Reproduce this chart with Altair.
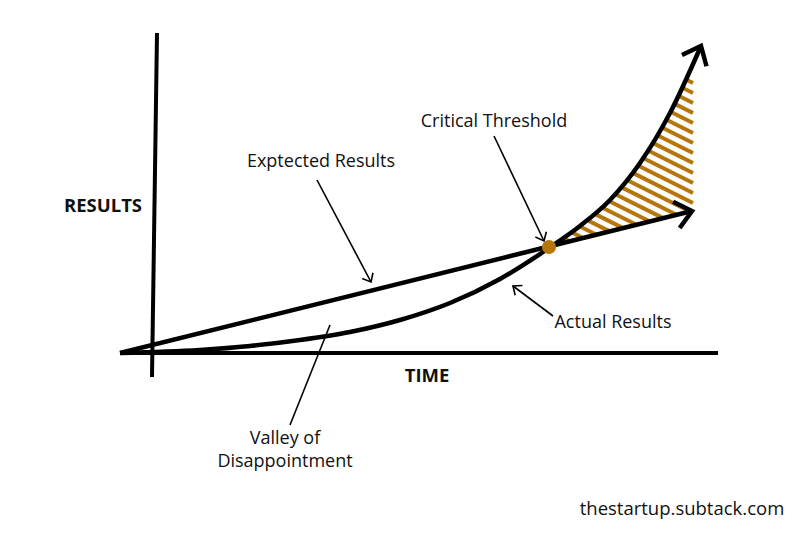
import math
import numpy as np
import pandas as pd
import altair as alt

# ---------------- data (time units, results units) ----------------
x_axis_t = [-3.2, 56.6]
x_axis_r = [0.0, 0.0]
y_axis_t = [0.0, 0.5]
y_axis_r = [-2.4, 32.0]

expected_t = [-3.2, 54.0]
expected_r = [0.0, 14.2]

actual_t = [-3.2, 4.8, 9.8, 14.8, 19.8, 24.8, 29.8, 34.8, 39.7, 42.8, 45.8, 48.8, 51.8, 54.9]
actual_r = [0.0, 0.3, 0.7, 1.3, 2.1, 3.3, 5.0, 7.4, 10.5, 12.7, 15.3, 19.0, 24.0, 30.7]

threshold_t = [39.7]
threshold_r = [10.6]

label_text = ["Critical Threshold", "Exptected Results", "Actual Results", "Valley of", "Disappointment"]
label_t = [34.2, 16.9, 46.1, 13.3, 13.3]
label_r = [23.1, 19.1, 3.0, -8.6, -10.9]

pointer_from_t = [34.2, 16.5, 40.1, 13.8]
pointer_from_r = [21.7, 17.3, 3.7, -7.2]
pointer_to_t = [39.2, 21.9, 36.1, 17.8]
pointer_to_r = [11.2, 7.1, 6.7, 2.8]
pointer_head = [True, True, True, False]

axis_title_text = ["RESULTS", "TIME"]
axis_title_t = [-4.9, 27.5]
axis_title_r = [14.7, -2.3]

credit_text = ["thestartup.subtack.com"]
credit_t = [53.0]
credit_r = [-15.6]

# shaded gap between the two results (hatching)
HATCH_RIGHT = 54.1
HATCH_TOP = 27.0
HATCH_STEP = 1.0
HATCH_SLOPE = 0.5

GOLD = "#B7760A"
FONT = "Open Sans"

# ---------------- derived tables ----------------
def heading(t0, r0, t1, r1):
    return (math.degrees(math.atan2(-(r1 - r0), t1 - t0)) + 360.0) % 360.0

def upper(t):
    return float(np.interp(t, actual_t, actual_r))

def lower(t):
    return float(np.interp(t, expected_t, expected_r))

def bisect(f, a, b, n=60):
    fa = f(a)
    for _ in range(n):
        m = 0.5 * (a + b)
        fm = f(m)
        if (fm > 0) == (fa > 0):
            a, fa = m, fm
        else:
            b = m
    return 0.5 * (a + b)

t_dot = threshold_t[0]
stripes = []
for k in range(60):
    c = HATCH_TOP - k * HATCH_STEP
    stripe = lambda t, c=c: c + HATCH_SLOPE * (HATCH_RIGHT - t)
    if stripe(t_dot + 0.3) <= lower(t_dot + 0.3):
        break
    if c >= lower(HATCH_RIGHT):
        ts = HATCH_RIGHT
    else:
        ts = bisect(lambda t: stripe(t) - lower(t), t_dot, HATCH_RIGHT)
    te = bisect(lambda t: stripe(t) - upper(t), t_dot, ts)
    stripes.append({"t": ts, "r": stripe(ts), "t2": te, "r2": stripe(te)})
hatch_df = pd.DataFrame(stripes)

axes_df = pd.DataFrame({
    "t": [x_axis_t[0], y_axis_t[0]], "r": [x_axis_r[0], y_axis_r[0]],
    "t2": [x_axis_t[1], y_axis_t[1]], "r2": [x_axis_r[1], y_axis_r[1]],
})
expected_df = pd.DataFrame({"t": [expected_t[0]], "r": [expected_r[0]],
                            "t2": [expected_t[1]], "r2": [expected_r[1]]})
actual_df = pd.DataFrame({"t": actual_t, "r": actual_r, "i": range(len(actual_t))})

big_heads = pd.DataFrame({
    "t": [expected_t[-1], actual_t[-1]],
    "r": [expected_r[-1], actual_r[-1]],
    "ang": [heading(expected_t[0], expected_r[0], expected_t[1], expected_r[1]),
            heading(actual_t[-2], actual_r[-2], actual_t[-1], actual_r[-1])],
})

pointer_df = pd.DataFrame({"t": pointer_from_t, "r": pointer_from_r,
                           "t2": pointer_to_t, "r2": pointer_to_r})
small_heads = pd.DataFrame([
    {"t": pointer_to_t[k], "r": pointer_to_r[k],
     "ang": heading(pointer_from_t[k], pointer_from_r[k], pointer_to_t[k], pointer_to_r[k])}
    for k in range(len(pointer_head)) if pointer_head[k]
])

dot_df = pd.DataFrame({"t": threshold_t, "r": threshold_r})
labels_df = pd.DataFrame({"t": label_t, "r": label_r, "txt": label_text})
titles_df = pd.DataFrame({"t": axis_title_t, "r": axis_title_r, "txt": axis_title_text})
credit_df = pd.DataFrame({"t": credit_t, "r": credit_r, "txt": credit_text})

# ---------------- encodings ----------------
xs = alt.Scale(domain=[-14.4, 64.0], nice=False, zero=False)
ys = alt.Scale(domain=[-17.4, 34.5], nice=False, zero=False)
X = alt.X("t:Q", scale=xs, axis=None)
Y = alt.Y("r:Q", scale=ys, axis=None)
X2 = alt.X2("t2:Q")
Y2 = alt.Y2("r2:Q")

CHEVRON = "M-0.766,-0.643L0,0L-0.766,0.643"

hatch = alt.Chart(hatch_df).mark_rule(color=GOLD, strokeWidth=4, strokeCap="butt").encode(X, Y, X2, Y2)
axes = alt.Chart(axes_df).mark_rule(color="black", strokeWidth=4, strokeCap="butt").encode(X, Y, X2, Y2)
expected = alt.Chart(expected_df).mark_rule(color="black", strokeWidth=4.5, strokeCap="butt").encode(X, Y, X2, Y2)
actual = alt.Chart(actual_df).mark_line(color="black", strokeWidth=4.5, interpolate="monotone").encode(
    X, Y, order="i:Q")
heads = alt.Chart(big_heads).mark_point(
    shape=CHEVRON, filled=False, color="black", strokeWidth=4.5, size=1764, opacity=1,
    strokeJoin="miter", strokeCap="butt").encode(X, Y, angle=alt.Angle("ang:Q", scale=None))
pointers = alt.Chart(pointer_df).mark_rule(color="black", strokeWidth=1.6).encode(X, Y, X2, Y2)
pheads = alt.Chart(small_heads).mark_point(
    shape=CHEVRON, filled=False, color="black", strokeWidth=1.6, size=360, opacity=1,
    strokeJoin="miter").encode(X, Y, angle=alt.Angle("ang:Q", scale=None))
dot = alt.Chart(dot_df).mark_point(filled=True, shape="circle", color=GOLD, size=200, opacity=1).encode(X, Y)
labels = alt.Chart(labels_df).mark_text(font=FONT, fontSize=18, color="#111111",
                                        align="center", baseline="middle").encode(X, Y, text="txt:N")
titles = alt.Chart(titles_df).mark_text(font=FONT, fontSize=18.5, fontWeight="bold", color="#111111",
                                        align="center", baseline="middle").encode(X, Y, text="txt:N")
credit = alt.Chart(credit_df).mark_text(font=FONT, fontSize=18.5, color="#111111",
                                        align="center", baseline="middle").encode(X, Y, text="txt:N")

chart = alt.layer(hatch, axes, expected, actual, heads, pointers, pheads, dot, labels, titles, credit).properties(
    width=784, height=519, padding=0, autosize=alt.AutoSizeParams(type="none"), background="white"
).configure_view(stroke=None)

chart.save("out.html", embed_options={"renderer": "svg", "actions": False})
